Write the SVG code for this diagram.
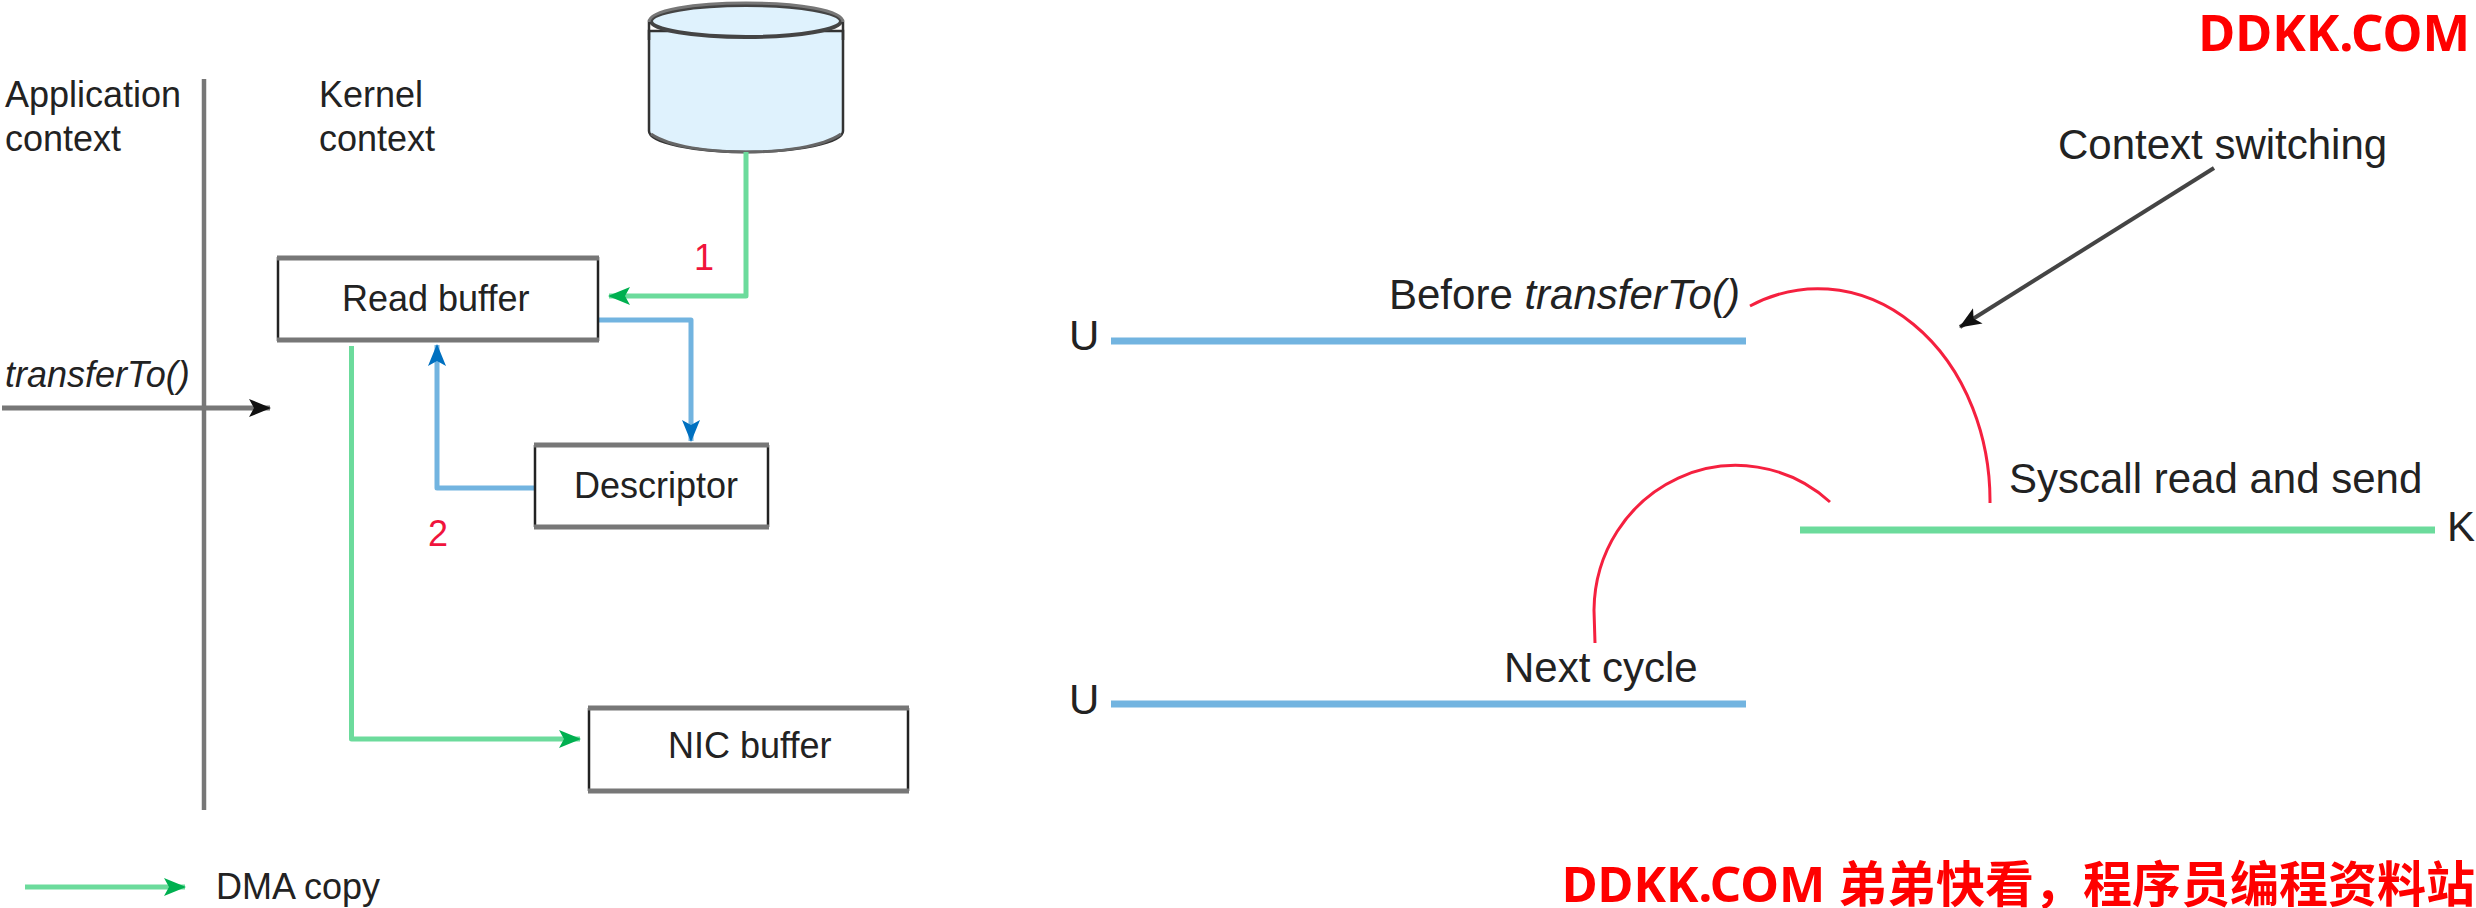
<svg xmlns="http://www.w3.org/2000/svg" width="2476" height="908" viewBox="0 0 2476 908">
  <style>
    text { font-family: "Liberation Sans", Arial, sans-serif; fill: #222; }
    .sm { font-size: 36px; }
    .lg { font-size: 42px; }
    .it { font-style: italic; }
    .num { font-size: 36px; fill: #f0143c; }
    .mark { font-family: "Noto Sans", "Noto Sans CJK SC", sans-serif; font-weight: 700; fill: #f00; }
    .wire { fill: none; stroke-linejoin: round; }
    .g { stroke: #6cdb9c; stroke-width: 5; }
    .b { stroke: #72b4e0; stroke-width: 5; }
    .bar { stroke-width: 7; fill: none; }
    .arc { fill: none; stroke: #f5203f; stroke-width: 3; }
    .edge-h { stroke: #777; stroke-width: 5; }
    .edge-v { stroke: #222; stroke-width: 2.5; }
  </style>
  <defs>
    <marker id="ag" markerUnits="userSpaceOnUse" markerWidth="24" markerHeight="20" refX="21" refY="9" orient="auto">
      <path d="M0,0 L22,9 L0,18 L5,9 Z" fill="#00b050"/>
    </marker>
    <marker id="ab" markerUnits="userSpaceOnUse" markerWidth="24" markerHeight="20" refX="21" refY="9" orient="auto">
      <path d="M0,0 L22,9 L0,18 L5,9 Z" fill="#0070c0"/>
    </marker>
    <marker id="ak" markerUnits="userSpaceOnUse" markerWidth="24" markerHeight="20" refX="21" refY="9" orient="auto">
      <path d="M0,0 L22,9 L0,18 L5,9 Z" fill="#111"/>
    </marker>
  </defs>

  <rect width="2476" height="908" fill="#fff"/>

  <g id="context-divider">
    <line x1="204" y1="79" x2="204" y2="810" stroke="#777" stroke-width="4.5"/>
    <text class="sm" x="5" y="107">Application</text>
    <text class="sm" x="5" y="151">context</text>
    <text class="sm" x="319" y="107">Kernel</text>
    <text class="sm" x="319" y="151">context</text>
  </g>

  <g id="disk">
    <path d="M649,31 V131 C649,143 695,152 746,152 C797,152 843,143 843,131 V31 Z" fill="#dff2fd" stroke="#333" stroke-width="2.5"/>
    <ellipse cx="746" cy="21" rx="95" ry="16" fill="#dff2fd" stroke="#444" stroke-width="4"/>
    <path d="M649,22 C649,10 695,3 746,3 C797,3 843,10 843,22" fill="none" stroke="#777" stroke-width="3"/>
    <path d="M649,22 V40 M843,22 V40" fill="none" stroke="#333" stroke-width="2.5"/>
    <path d="M651,134 C670,147 710,152 746,152 C782,152 822,147 841,134" fill="none" stroke="#666" stroke-width="3"/>
  </g>

  <g id="connectors">
    <path class="wire g" d="M746,152 V296 H609" marker-end="url(#ag)"/>
    <path class="wire b" d="M598,320 H691 V441" marker-end="url(#ab)"/>
    <path class="wire b" d="M534,488 H437 V345" marker-end="url(#ab)"/>
    <path class="wire g" d="M351.500,346 V739 H580" marker-end="url(#ag)"/>
    <path class="wire" stroke="#777" stroke-width="5" d="M2,408 H270" marker-end="url(#ak)"/>
    <path class="wire g" d="M25,887 H185" marker-end="url(#ag)"/>
    <path class="wire" stroke="#444" stroke-width="4" d="M2214,168 L1960,327" marker-end="url(#ak)"/>
    <path class="arc" d="M1750,306 A172,212 0 0 1 1990,503"/>
    <path class="arc" d="M1830,502 A142,146 0 0 0 1594,610 L1595,643"/>
    <line class="bar" stroke="#72b4e0" x1="1111" y1="341" x2="1746" y2="341"/>
    <line class="bar" stroke="#6cdb9c" x1="1800" y1="530" x2="2435" y2="530"/>
    <line class="bar" stroke="#72b4e0" x1="1111" y1="704" x2="1746" y2="704"/>
  </g>

  <g id="read-buffer">
    <rect x="278" y="258" width="320" height="83" fill="#fff"/>
    <line class="edge-v" x1="278" y1="257" x2="278" y2="341"/>
    <line class="edge-v" x1="598" y1="257" x2="598" y2="341"/>
    <line class="edge-h" x1="277" y1="258" x2="599" y2="258"/>
    <line class="edge-h" x1="277" y1="340" x2="599" y2="340"/>
    <text class="sm" x="342" y="311">Read buffer</text>
  </g>

  <g id="descriptor">
    <rect x="535" y="445" width="234" height="82" fill="#fff"/>
    <line class="edge-v" x1="535" y1="445" x2="535" y2="527"/>
    <line class="edge-v" x1="768" y1="445" x2="768" y2="527"/>
    <line class="edge-h" x1="534" y1="445" x2="769" y2="445"/>
    <line class="edge-h" x1="534" y1="527" x2="769" y2="527"/>
    <text class="sm" x="574" y="498">Descriptor</text>
  </g>

  <g id="nic-buffer">
    <rect x="589" y="708" width="320" height="83" fill="#fff"/>
    <line class="edge-v" x1="589" y1="708" x2="589" y2="791"/>
    <line class="edge-v" x1="908" y1="708" x2="908" y2="791"/>
    <line class="edge-h" x1="588" y1="708" x2="909" y2="708"/>
    <line class="edge-h" x1="588" y1="791" x2="909" y2="791"/>
    <text class="sm" x="668" y="758">NIC buffer</text>
  </g>

  <g id="labels">
    <text class="sm it" x="5" y="387">transferTo()</text>
    <text class="num" x="694" y="270">1</text>
    <text class="num" x="428" y="546">2</text>
    <text class="sm" x="216" y="899">DMA copy</text>
    <text class="lg" x="1069" y="350">U</text>
    <text class="lg" x="1069" y="714">U</text>
    <text class="lg" x="2447" y="541">K</text>
    <text class="lg" x="1389" y="309">Before <tspan class="it">transferTo()</tspan></text>
    <text class="lg" x="2058" y="159">Context switching</text>
    <text class="lg" x="2009" y="493">Syscall read and send</text>
    <text class="lg" x="1504" y="682">Next cycle</text>
  </g>

  <g id="site-marks">
    <text class="mark" font-size="50.500" x="2470" y="51" text-anchor="end">DDKK.COM</text>
    <text class="mark" font-size="49" x="2475" y="902" text-anchor="end">DDKK.COM 弟弟快看，程序员编程资料站</text>
  </g>
</svg>
